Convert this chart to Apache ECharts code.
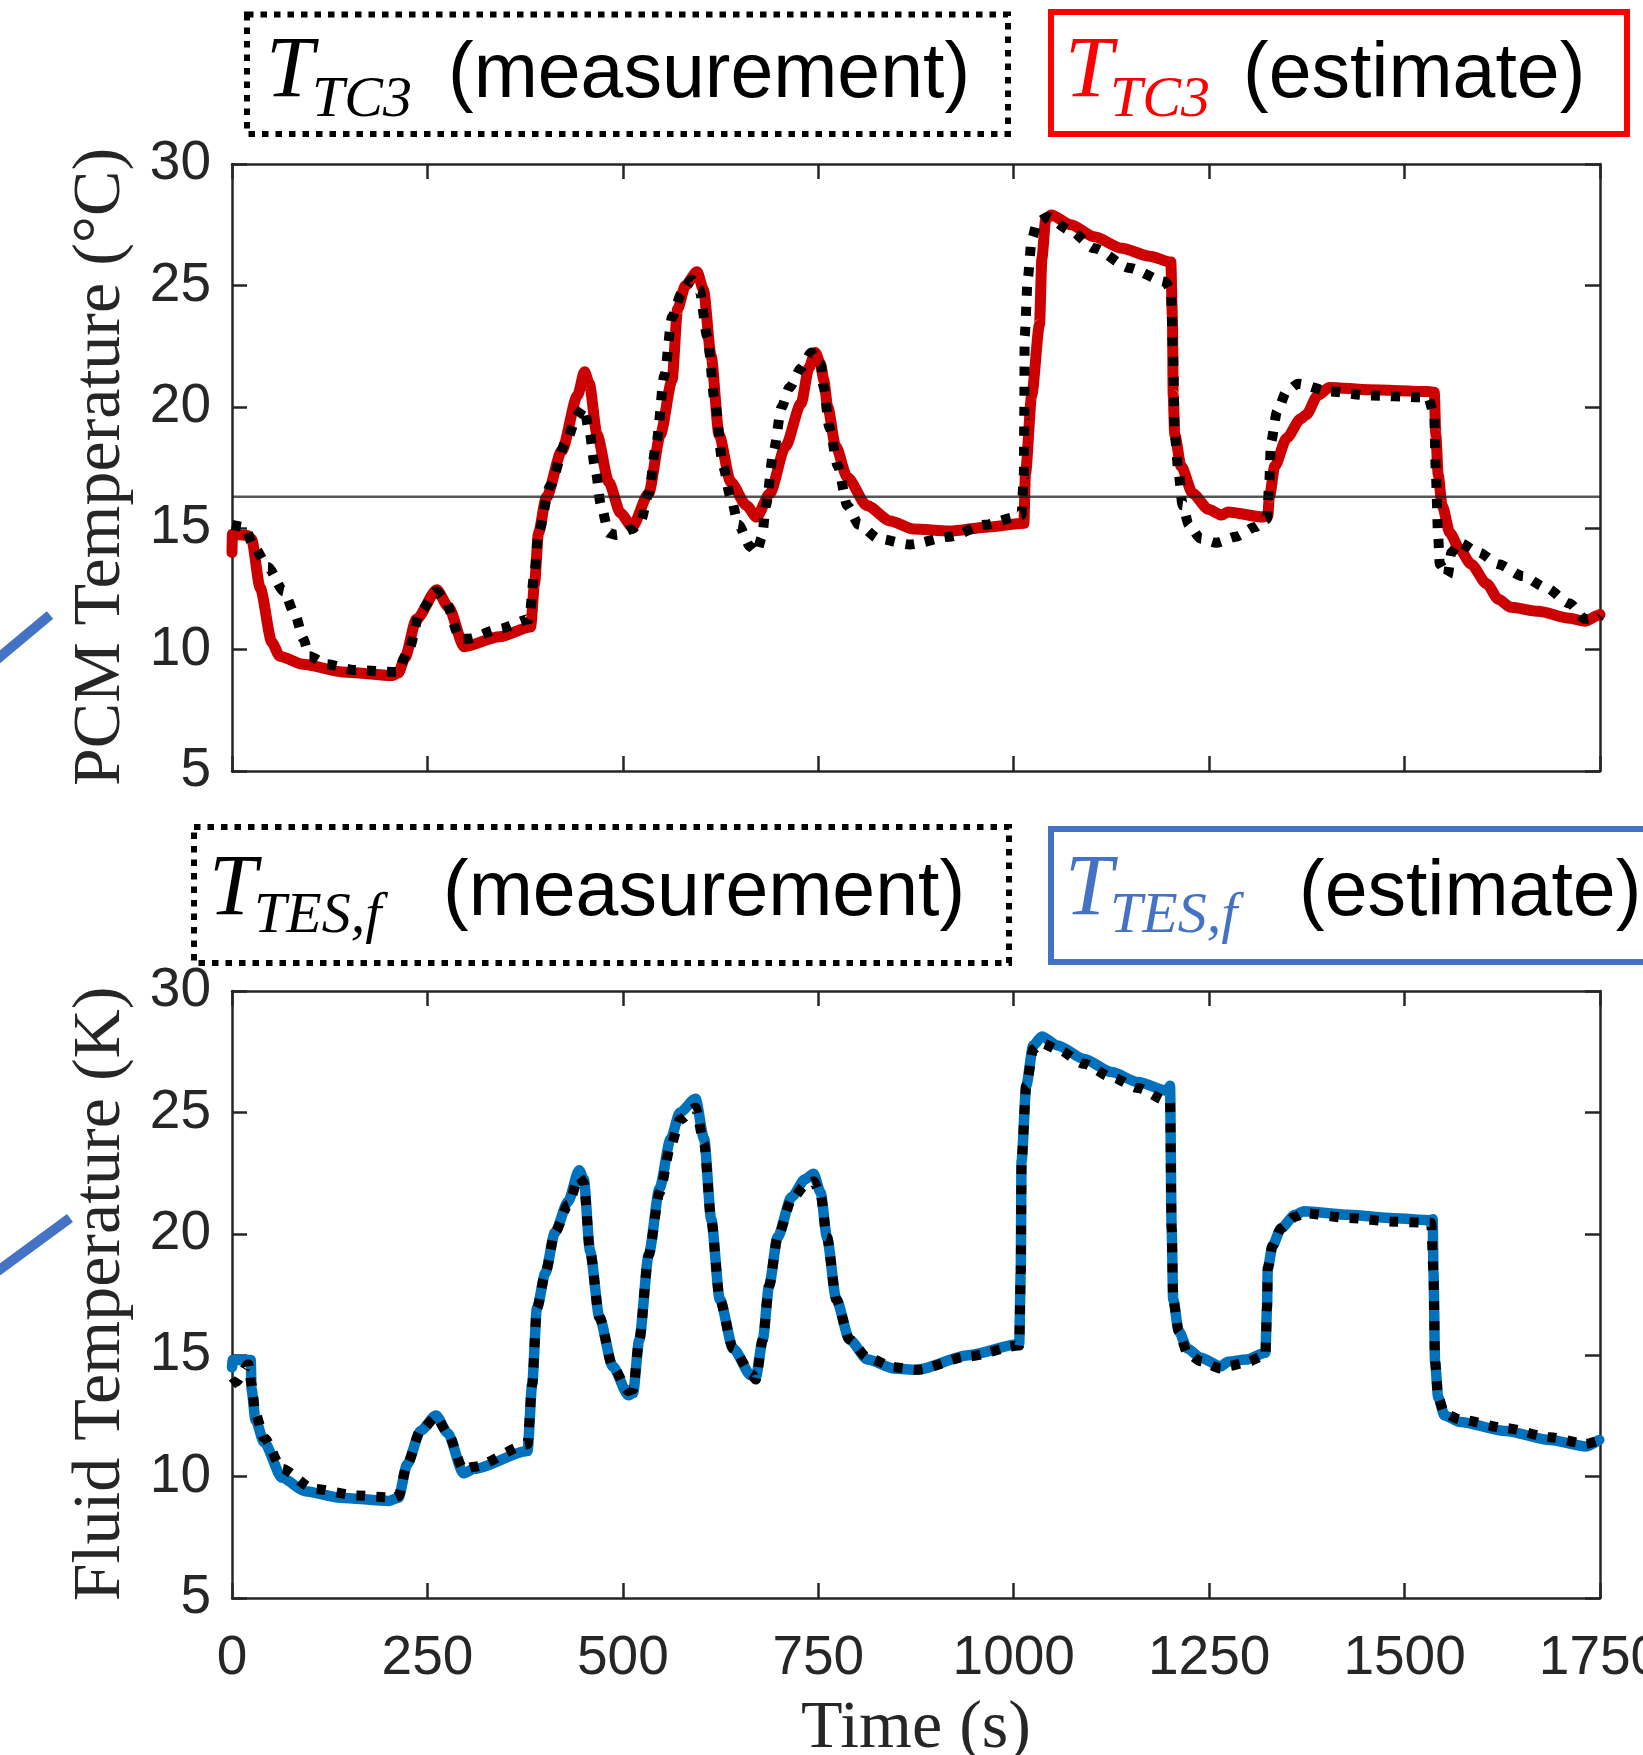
<!DOCTYPE html>
<html>
<head>
<meta charset="utf-8">
<script src="https://cdn.jsdelivr.net/npm/echarts/dist/echarts.min.js"></script>
<style>
  html, body { margin: 0; padding: 0; background: #ffffff; }
  #chart { width: 1643px; height: 1755px; }
</style>
</head>
<body>
<div id="chart"></div>
<script>
// PCM temperature at thermocouple TC3: measurement (time in s, temperature in °C)
const tc3MeasTime = [0, 16, 28, 46, 66, 81, 91, 99, 121, 156, 211, 226, 241, 262, 272, 292, 302, 342, 380, 387, 392, 407, 427, 442, 450, 457, 465, 472, 482, 492, 512, 523, 533, 543, 553, 563, 575, 588, 598, 608, 618, 628, 638, 648, 663, 671, 678, 683, 693, 703, 713, 728, 741, 753, 757, 764, 775, 787, 802, 827, 867, 918, 963, 1003, 1010, 1013, 1013.5, 1014, 1018, 1023, 1030, 1043, 1073, 1103, 1148, 1194, 1201, 1204, 1206, 1211, 1216, 1224, 1239, 1259, 1284, 1309, 1324, 1327, 1329, 1337, 1349, 1364, 1404, 1455, 1520, 1530, 1538, 1540, 1543, 1545, 1555, 1560, 1570, 1595, 1620, 1651, 1681, 1711, 1731, 1748, 1750];
const tc3MeasTemp = [15.14, 15.05, 14.24, 13.4, 12.4, 11.42, 10.45, 9.73, 9.4, 9.16, 9.08, 9.97, 11.58, 12.4, 12.07, 10.45, 10.45, 10.85, 11.25, 13.2, 14.8, 16.75, 18.53, 19.66, 19.98, 19.0, 17.4, 15.94, 14.8, 14.72, 14.97, 15.3, 16.43, 18.53, 21.28, 23.7, 24.67, 25.24, 24.83, 22.89, 20.14, 17.56, 16.27, 15.14, 14.24, 14.0, 14.64, 15.94, 18.2, 19.98, 20.79, 21.6, 22.24, 21.76, 20.8, 19.17, 17.56, 15.94, 15.14, 14.57, 14.33, 14.65, 15.14, 15.46, 15.54, 17.23, 19.66, 22.9, 25.3, 26.9, 27.58, 27.82, 27.25, 26.53, 25.72, 25.15, 24.83, 22.08, 18.85, 17.23, 15.94, 15.14, 14.57, 14.4, 14.65, 15.05, 15.38, 16.91, 18.53, 19.82, 20.63, 20.95, 20.63, 20.47, 20.39, 20.39, 19.66, 17.23, 14.64, 13.52, 13.03, 14.0, 14.4, 14.0, 13.52, 13.03, 12.55, 11.9, 11.26, 11.34, 11.4];

// PCM temperature at thermocouple TC3: estimate
const tc3EstTime = [0, 0.5, 20, 25, 36, 51, 61, 91, 141, 206, 213, 221, 236, 262, 277, 297, 342, 382, 387, 392, 402, 422, 442, 451, 457, 467, 482, 497, 512, 533, 548, 563, 570, 580, 595, 603, 613, 623, 638, 658, 671, 688, 708, 728, 738, 746, 753, 757, 762, 772, 787, 812, 842, 872, 918, 968, 1013, 1015, 1023, 1033, 1036, 1041, 1048, 1073, 1103, 1138, 1174, 1201, 1203, 1204, 1206, 1214, 1229, 1249, 1266, 1274, 1319, 1325, 1327, 1334, 1349, 1367, 1374, 1389, 1404, 1455, 1530, 1538, 1540, 1543, 1548, 1558, 1570, 1585, 1605, 1620, 1636, 1671, 1711, 1731, 1748, 1750];
const tc3EstTemp = [14.0, 14.75, 14.7, 14.55, 12.55, 10.3, 9.73, 9.4, 9.08, 8.93, 9.05, 9.65, 11.25, 12.46, 11.75, 10.12, 10.53, 10.93, 12.7, 14.8, 16.26, 18.2, 20.47, 21.44, 20.96, 18.85, 16.9, 15.62, 15.05, 16.43, 18.85, 21.11, 24.02, 25.0, 25.56, 24.83, 22.08, 18.85, 16.9, 15.94, 15.46, 16.43, 18.37, 20.14, 21.6, 22.24, 21.76, 21.1, 20.0, 18.4, 17.1, 15.94, 15.3, 14.97, 14.88, 15.05, 15.2, 17.23, 20.47, 23.38, 26.1, 27.74, 27.9, 27.5, 27.0, 26.53, 26.2, 25.96, 23.7, 20.47, 18.85, 17.56, 16.43, 15.78, 15.54, 15.67, 15.46, 15.5, 16.27, 17.56, 18.7, 19.5, 19.66, 20.47, 20.8, 20.7, 20.63, 20.6, 18.85, 17.2, 15.94, 14.8, 14.16, 13.52, 12.71, 12.07, 11.74, 11.58, 11.29, 11.17, 11.41, 11.45];

// Fluid temperature leaving the TES: measurement
const fluidMeasTime = [0, 5, 21, 25, 30, 41, 64, 104, 161, 207, 213, 224, 241, 261, 276, 296, 310, 378, 384, 390, 401, 413, 430, 444, 450, 458, 470, 487, 507, 513, 521, 533, 547, 561, 573, 593, 604, 613, 624, 641, 664, 670, 679, 687, 698, 716, 733, 744, 753, 761, 773, 790, 813, 847, 876, 942, 1007, 1009, 1010, 1016, 1025, 1036, 1056, 1090, 1125, 1159, 1196, 1200, 1202, 1204, 1211, 1222, 1239, 1265, 1274, 1297, 1322, 1324, 1325, 1331, 1342, 1360, 1371, 1428, 1486, 1534, 1537, 1539, 1543, 1551, 1571, 1629, 1686, 1732, 1749];
const fluidMeasTemp = [13.8, 13.9, 14.63, 13.8, 12.6, 11.6, 10.32, 9.5, 9.22, 9.13, 9.2, 10.5, 11.88, 12.45, 11.79, 10.3, 10.41, 11.33, 13.8, 16.93, 18.4, 20.05, 21.2, 22.34, 22.1, 19.3, 16.56, 14.54, 13.53, 13.6, 15.64, 19.13, 21.7, 23.6, 24.7, 25.19, 23.7, 20.6, 17.3, 15.28, 14.25, 14.0, 15.64, 17.85, 19.87, 21.4, 22.0, 22.16, 21.6, 19.87, 17.3, 15.64, 14.9, 14.5, 14.4, 14.95, 15.4, 18.4, 22.99, 26.1, 27.6, 27.85, 27.6, 27.0, 26.45, 26.0, 25.47, 25.4, 20.23, 17.3, 16.0, 15.1, 14.75, 14.45, 14.55, 14.7, 15.0, 16.93, 18.58, 19.5, 20.23, 20.7, 20.85, 20.65, 20.5, 20.45, 18.4, 14.73, 13.26, 12.6, 12.35, 12.0, 11.62, 11.35, 11.5];

// Fluid temperature leaving the TES: estimate
const fluidEstTime = [0, 1, 24, 25, 30, 41, 64, 93, 138, 201, 213, 224, 241, 261, 276, 296, 310, 378, 384, 390, 401, 413, 430, 444, 450, 458, 470, 487, 507, 513, 521, 533, 547, 561, 573, 593, 604, 613, 624, 641, 664, 670, 679, 687, 698, 716, 733, 744, 753, 761, 773, 790, 813, 847, 876, 942, 1007, 1009, 1010, 1016, 1025, 1036, 1056, 1090, 1125, 1159, 1196, 1200, 1202, 1204, 1211, 1222, 1239, 1265, 1274, 1297, 1322, 1324, 1325, 1331, 1342, 1360, 1371, 1428, 1486, 1534, 1536, 1537, 1539, 1543, 1551, 1571, 1629, 1686, 1732, 1749];
const fluidEstTemp = [14.5, 14.8, 14.8, 13.6, 12.34, 11.42, 9.95, 9.4, 9.13, 9.0, 9.13, 10.5, 11.88, 12.52, 11.79, 10.14, 10.32, 11.05, 13.8, 16.93, 18.4, 20.05, 21.33, 22.62, 22.25, 19.3, 16.56, 14.54, 13.35, 13.44, 15.64, 19.13, 21.88, 23.9, 25.0, 25.56, 23.9, 20.6, 17.3, 15.28, 14.17, 14.08, 15.64, 17.85, 19.87, 21.52, 22.25, 22.47, 21.7, 19.87, 17.3, 15.64, 14.82, 14.45, 14.4, 15.0, 15.46, 18.4, 22.99, 26.1, 27.76, 28.13, 27.76, 27.2, 26.66, 26.25, 25.89, 26.1, 20.23, 17.3, 16.0, 15.28, 14.9, 14.54, 14.73, 14.82, 15.1, 16.93, 18.58, 19.5, 20.23, 20.78, 20.93, 20.78, 20.64, 20.56, 20.6, 18.4, 14.73, 13.26, 12.52, 12.25, 11.88, 11.51, 11.24, 11.51];

// Phase-change temperature of the PCM (°C)
const phaseChangeTemp = [16.3];

// Axis ticks
const timeTicks = [0, 250, 500, 750, 1000, 1250, 1500, 1750];
const tempTicks = [5, 10, 15, 20, 25, 30];

const INK = '#262626';
const RED_LINE = '#cc0000';
const BLUE_LINE = '#0072bd';
const RED_KEY = '#ff0000';
const BLUE_KEY = '#4472c4';

const pairs = (ts, vs) => ts.map((t, i) => [t, vs[i]]);

const tMin = timeTicks[0], tMax = timeTicks[timeTicks.length - 1];
const tStep = timeTicks[1] - timeTicks[0];
const yMin = tempTicks[0], yMax = tempTicks[tempTicks.length - 1];
const yStep = tempTicks[1] - tempTicks[0];

const axisLineStyle = { color: INK, width: 2.5 };
const tickStyle = { show: true, inside: true, length: 15, lineStyle: { color: INK, width: 2.5 } };

function xAxisFor(gridIndex, position, showLabels) {
  return {
    type: 'value', gridIndex, position, min: tMin, max: tMax, interval: tStep,
    axisLine: { show: true, onZero: false, lineStyle: axisLineStyle },
    axisTick: tickStyle,
    splitLine: { show: false },
    axisLabel: {
      show: showLabels, margin: 33, color: INK,
      fontFamily: 'Liberation Sans', fontSize: 55,
      formatter: (v) => String(v),
      showMinLabel: true, showMaxLabel: true, hideOverlap: false
    }
  };
}
function yAxisFor(gridIndex, position, showLabels) {
  return {
    type: 'value', gridIndex, position, min: yMin, max: yMax, interval: yStep,
    axisLine: { show: true, onZero: false, lineStyle: axisLineStyle },
    axisTick: tickStyle,
    splitLine: { show: false },
    axisLabel: {
      show: showLabels, margin: 21, color: INK,
      fontFamily: 'Liberation Sans', fontSize: 55,
      formatter: (v) => String(v),
      showMinLabel: true, showMaxLabel: true
    }
  };
}

const solid = (color, width) => ({ color, width, type: 'solid', cap: 'round', join: 'round' });
const dotted = { color: '#000000', width: 10, type: [9, 11], cap: 'butt', join: 'miter' };

function lineSeries(name, xi, data, lineStyle, z, smooth) {
  return {
    name, type: 'line', xAxisIndex: xi, yAxisIndex: xi, data,
    showSymbol: false, symbol: 'none',
    smooth: smooth || false, smoothMonotone: 'x', clip: true,
    lineStyle, z, silent: true
  };
}

// Legend key text pieces
const serifItalic = (x, y, text, size, color) => ({
  type: 'text', x, y, z: 100,
  style: { text, fill: color, fontFamily: 'Liberation Serif', fontStyle: 'italic',
           fontSize: size, align: 'left', verticalAlign: 'middle' }
});
const sans = (x, y, text, size, color) => ({
  type: 'text', x, y, z: 100,
  style: { text, fill: color, fontFamily: 'Liberation Sans',
           fontSize: size, align: 'left', verticalAlign: 'middle' }
});
const keyBox = (x, y, w, h, color, dash) => ({
  type: 'rect', z: 90,
  shape: { x, y, width: w, height: h },
  style: { fill: null, stroke: color, lineWidth: 6, lineDash: dash || null, lineCap: 'butt' }
});
const axisTitle = (x, y, text, rotate) => ({
  type: 'text', x, y, rotation: rotate ? Math.PI / 2 : 0, z: 100,
  style: { text, fill: INK, fontFamily: 'Liberation Serif', fontSize: 68,
           align: 'center', verticalAlign: 'middle' }
});

const chart = echarts.init(document.getElementById('chart'), null, { renderer: 'canvas', width: 1643, height: 1755 });

chart.setOption({
  animation: false,
  backgroundColor: '#ffffff',
  grid: [
    { left: 232, top: 164, width: 1368, height: 607, containLabel: false, outerBoundsMode: 'none' },
    { left: 232, top: 991, width: 1368, height: 607, containLabel: false, outerBoundsMode: 'none' }
  ],
  xAxis: [
    xAxisFor(0, 'bottom', false),
    xAxisFor(0, 'top', false),
    xAxisFor(1, 'bottom', true),
    xAxisFor(1, 'top', false)
  ],
  yAxis: [
    yAxisFor(0, 'left', true),
    yAxisFor(0, 'right', false),
    yAxisFor(1, 'left', true),
    yAxisFor(1, 'right', false)
  ],
  series: [
    lineSeries('T_TC3 (estimate)', 0, pairs(tc3EstTime, tc3EstTemp), solid(RED_LINE, 11), 2, 0.25),
    lineSeries('T_TC3 (measurement)', 0, pairs(tc3MeasTime, tc3MeasTemp), dotted, 3, 0.25),
    lineSeries('Phase change', 0, [[tMin, phaseChangeTemp[0]], [tMax, phaseChangeTemp[0]]],
               { color: 'rgba(30,30,30,0.75)', width: 2.5, type: 'solid' }, 4),
    lineSeries('T_TES,f (estimate)', 2, pairs(fluidEstTime, fluidEstTemp), solid(BLUE_LINE, 10.5), 2, 0.25),
    lineSeries('T_TES,f (measurement)', 2, pairs(fluidMeasTime, fluidMeasTemp), dotted, 3, 0.25)
  ],
  graphic: [
    // upper keys
    keyBox(247, 14.5, 761, 119.5, '#000000', [6.5, 7]),
    serifItalic(266, 73.3, 'T', 86, '#000000'),
    serifItalic(312, 100.3, 'TC3', 58, '#000000'),
    sans(448, 75.8, '(measurement)', 77, '#000000'),
    keyBox(1051, 12, 576, 122, RED_KEY),
    serifItalic(1065, 73.3, 'T', 86, RED_KEY),
    serifItalic(1110, 100.3, 'TC3', 58, RED_KEY),
    sans(1243, 75.8, '(estimate)', 77, '#000000'),
    // lower keys
    keyBox(194, 827, 815, 136, '#000000', [6.5, 7]),
    serifItalic(209, 891.3, 'T', 86, '#000000'),
    serifItalic(254, 917, 'TES,f', 58, '#000000'),
    sans(443, 893.8, '(measurement)', 77, '#000000'),
    keyBox(1051, 829, 700, 133, BLUE_KEY),
    serifItalic(1065, 891.3, 'T', 86, BLUE_KEY),
    serifItalic(1110, 917, 'TES,f', 58, BLUE_KEY),
    sans(1299, 893.8, '(estimate)', 77, '#000000'),
    // connector strokes entering from the left edge
    { type: 'line', z: 80, shape: { x1: -5, y1: 661, x2: 50, y2: 615 },
      style: { stroke: BLUE_KEY, lineWidth: 10 } },
    { type: 'line', z: 80, shape: { x1: -5, y1: 1273, x2: 70, y2: 1218 },
      style: { stroke: BLUE_KEY, lineWidth: 10 } },
    // axis titles
    axisTitle(101, 467, 'PCM Temperature (°C)', true),
    axisTitle(101, 1294, 'Fluid Temperature (K)', true),
    axisTitle(916, 1729, 'Time (s)', false)
  ]
});
</script>
</body>
</html>
